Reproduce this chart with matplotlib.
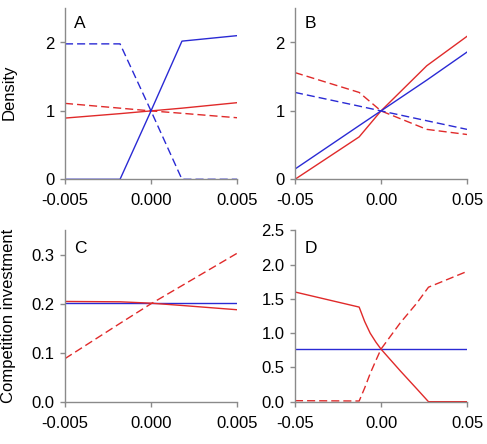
import matplotlib
matplotlib.use("Agg")
import matplotlib.pyplot as plt

plt.rcParams['font.family'] = ['Liberation Sans', 'DejaVu Sans']

# ---- data ----
x_a = [-0.005, -0.0018, 0.0, 0.0018, 0.005]
a_blue_solid = [0.0, 0.0, 1.0, 2.02, 2.10]
a_blue_dash = [1.98, 1.98, 1.0, 0.0, 0.0]
a_red_solid = [0.895, 0.96, 1.0, 1.04, 1.12]
a_red_dash = [1.11, 1.04, 1.0, 0.965, 0.90]

x_b = [-0.05, -0.0127, 0.0, 0.0266, 0.05]
b_red_solid = [0.0, 0.62, 1.0, 1.66, 2.09]
b_red_dash = [1.56, 1.27, 1.0, 0.73, 0.655]
b_blue_solid = [0.15, 0.785, 1.0, 1.45, 1.86]
b_blue_dash = [1.27, 1.07, 1.0, 0.856, 0.73]

x_c = [-0.005, -0.0018, 0.0, 0.0018, 0.005]
c_red_solid = [0.2047, 0.2040, 0.2012, 0.1965, 0.1878]
c_blue_solid = [0.2012, 0.2012, 0.2012, 0.2012, 0.2012]
c_red_dash = [0.088, 0.160, 0.200, 0.237, 0.303]

x_d = [-0.05, -0.0127, -0.0095, -0.0063, -0.003, 0.0, 0.0112, 0.0209, 0.0276, 0.05]
d_red_solid = [1.60, 1.38, 1.17, 1.00, 0.87, 0.767, 0.45, 0.185, 0.0, 0.0]
d_red_dash = [0.015, 0.01, 0.20, 0.41, 0.60, 0.767, 1.15, 1.44, 1.67, 1.90]
d_blue_solid = [0.767] * len(x_d)

xt_small = [-0.005, 0.0, 0.005]
xt_small_lbl = ["-0.005", "0.000", "0.005"]
xt_big = [-0.05, 0.0, 0.05]
xt_big_lbl = ["-0.05", "0.00", "0.05"]

RED = '#e02a2a'
BLUE = '#2a2ad4'
GRAY = '#8a8a8a'
DASH = (5.8, 2.9)

W, H = 487, 444
fig = plt.figure(figsize=(W / 100, H / 100), dpi=100)

def make_ax(left, top, right, bottom):
    return fig.add_axes([left / W, 1 - bottom / H, (right - left) / W, (bottom - top) / H])

axA = make_ax(65, 8.3, 237, 179.3)
axB = make_ax(295, 8.3, 467, 179.3)
axC = make_ax(65, 230.3, 237, 401.7)
axD = make_ax(295, 230.3, 467, 401.7)

def style(ax, xt, xl, ylim, yt, ylbl, letter, ly):
    for s in ['top', 'right']:
        ax.spines[s].set_visible(False)
    for s in ['left', 'bottom']:
        ax.spines[s].set_color(GRAY)
        ax.spines[s].set_linewidth(1.0)
    ax.set_xlim(xt[0], xt[-1])
    ax.set_ylim(*ylim)
    ax.set_xticks(xt)
    ax.set_xticklabels(xl)
    ax.set_yticks(yt)
    ax.set_yticklabels(ylbl)
    ax.tick_params(direction='out', length=3.5, width=1.0, color=GRAY,
                   labelsize=12, labelcolor='black')
    ax.tick_params(axis='x', pad=6.5)
    ax.tick_params(axis='y', pad=4)
    ax.patch.set_alpha(0)
    ax.text(0.055, ly, letter, transform=ax.transAxes, fontsize=12.5,
            ha='left', va='baseline')

lw = 1.0
axA.plot(x_a, a_red_solid, color=RED, lw=lw)
axA.plot(x_a, a_red_dash, color=RED, lw=lw, dashes=DASH)
axA.plot(x_a, a_blue_solid, color=BLUE, lw=lw)
axA.plot(x_a, a_blue_dash, color=BLUE, lw=lw, dashes=DASH)
style(axA, xt_small, xt_small_lbl, (0, 2.5), [0, 1, 2], ["0", "1", "2"], "A", 0.883)

axB.plot(x_b, b_red_solid, color=RED, lw=lw)
axB.plot(x_b, b_red_dash, color=RED, lw=lw, dashes=DASH)
axB.plot(x_b, b_blue_solid, color=BLUE, lw=lw)
axB.plot(x_b, b_blue_dash, color=BLUE, lw=lw, dashes=DASH)
style(axB, xt_big, xt_big_lbl, (0, 2.5), [0, 1, 2], ["0", "1", "2"], "B", 0.883)

axC.plot(x_c, c_blue_solid, color=BLUE, lw=lw)
axC.plot(x_c, c_red_solid, color=RED, lw=lw)
axC.plot(x_c, c_red_dash, color=RED, lw=lw, dashes=DASH)
style(axC, xt_small, xt_small_lbl, (0, 0.35), [0, 0.1, 0.2, 0.3],
      ["0.0", "0.1", "0.2", "0.3"], "C", 0.866)

axD.plot(x_d, d_blue_solid, color=BLUE, lw=lw)
axD.plot(x_d, d_red_solid, color=RED, lw=lw)
axD.plot(x_d, d_red_dash, color=RED, lw=lw, dashes=DASH)
style(axD, xt_big, xt_big_lbl, (0, 2.5), [0, 0.5, 1.0, 1.5, 2.0, 2.5],
      ["0.0", "0.5", "1.0", "1.5", "2.0", "2.5"], "D", 0.866)

fig.text(9 / W, 1 - 92.5 / H, "Density", rotation=90, ha='center', va='center', fontsize=12)
fig.text(9 / W, 1 - 315.5 / H, "Competition investment", rotation=90, ha='center',
         va='center', fontsize=12)

fig.savefig("out.png", dpi=100)
